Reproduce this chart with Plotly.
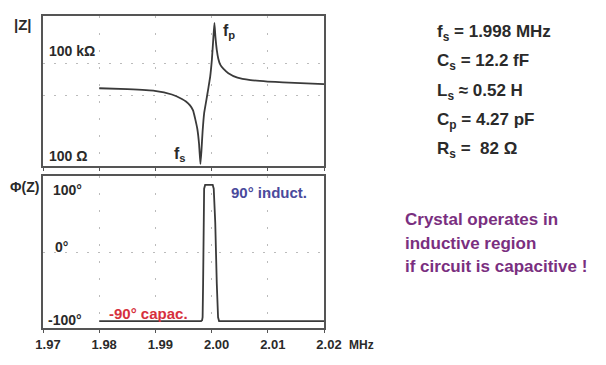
import plotly.graph_objects as go

# ---- data ----
freq_mag = [1.98000, 1.98503, 1.98987, 1.99293, 1.99472, 1.99544, 1.99616, 1.99670,
            1.99706, 1.99747, 1.99777, 1.99801, 1.99819, 1.99840, 1.99867, 1.99903,
            1.99944, 1.99975, 2.00005, 2.00029, 2.00050, 2.00068, 2.00092, 2.00119,
            2.00154, 2.00208, 2.00298, 2.00460, 2.00693, 2.00998, 2.01268, 2.02000]
z_mag = [16700, 15600, 13900, 10600, 7650, 6380, 4780, 3330,
         1860, 842, 284, 67, 171, 728, 2680, 6380,
         17600, 39000, 134000, 569000, 1950000, 706000, 275000, 144000,
         93000, 69700, 50200, 36300, 30300, 27200, 25800, 22600]

freq_ph = [1.980, 1.99813, 1.99831, 1.99840, 1.99849, 1.99858, 1.99867, 1.99885,
           2.00020, 2.00038, 2.00065, 2.00092, 2.00115, 2.00133, 2.020]
phase = [-90, -90, -89, -85, -40, 40, 85, 90,
         90, 85, 40, -40, -85, -90, -90]

x_ticks = [1.97, 1.98, 1.99, 2.00, 2.01, 2.02]
x_tick_text = ["1.97", "1.98", "1.99", "2.00", "2.01", "2.02"]
params = ["f<sub>s</sub> = 1.998 MHz", "C<sub>s</sub> = 12.2 fF", "L<sub>s</sub> \u2248 0.52 H",
          "C<sub>p</sub> = 4.27 pF", "R<sub>s</sub> =  82 \u03a9"]
note_lines = ["Crystal operates in", "inductive region", "if circuit is capacitive !"]

# page shows the figure offset by the 8px body margin
OFF = 8
W, H = 606 - OFF, 365 - OFF
ML, MT = 43 - OFF, 14 - OFF
MR, MB = W - (324 - OFF), H - (328 - OFF)
PW, PH = W - ML - MR, H - MT - MB


def px(x):
    return (x - OFF - ML) / PW


def py(y):
    return (H - MB - (y - OFF)) / PH


FONT = "Liberation Sans, Arial, sans-serif"
DARK = "#2a2a2a"

fig = go.Figure()
fig.add_trace(go.Scatter(x=freq_mag, y=z_mag, mode="lines", xaxis="x", yaxis="y",
                         line=dict(color="#3a3a3a", width=1.8, shape="spline", smoothing=0.4),
                         hoverinfo="skip"))
fig.add_trace(go.Scatter(x=freq_ph, y=phase, mode="lines", xaxis="x2", yaxis="y2",
                         line=dict(color="#3a3a3a", width=1.8), hoverinfo="skip"))

axis_common = dict(showline=True, mirror=True, linecolor="#555555", linewidth=1.5,
                   zeroline=False)

fig.update_layout(
    width=W, height=H, margin=dict(l=ML, r=MR, t=MT, b=MB),
    paper_bgcolor="white", plot_bgcolor="white", showlegend=False,
    xaxis=dict(domain=[0, 1], range=[1.97, 2.02], anchor="y", tickvals=x_ticks,
               showticklabels=False, ticks="outside", ticklen=3, tickcolor="#555555",
               showgrid=True, gridcolor="#bbbbbb", griddash="2px,15px", gridwidth=1,
               **axis_common),
    yaxis=dict(domain=[py(165), 1], type="log", range=[1.761, 6.509], anchor="x",
               tickvals=[1e4, 1e5], showticklabels=False, ticks="",
               showgrid=True, gridcolor="#bbbbbb", griddash="2px,9px", gridwidth=1,
               **axis_common),
    xaxis2=dict(domain=[0, 1], range=[1.97, 2.02], anchor="y2", tickvals=x_ticks,
                ticktext=x_tick_text, ticks="outside", ticklen=3, tickcolor="#555555",
                ticklabelshift=5, ticklabelstandoff=1,
                tickfont=dict(family=FONT, size=13, color=DARK, weight="bold"),
                showgrid=True, gridcolor="#bbbbbb", griddash="2px,15px", gridwidth=1,
                **axis_common),
    yaxis2=dict(domain=[0, py(175)], range=[-99.2, 101.8], anchor="x2",
                tickvals=[0], showticklabels=False, ticks="",
                showgrid=True, gridcolor="#bbbbbb", griddash="2px,9px", gridwidth=1,
                **axis_common),
)

anns = []


def add_text(text, x, y, size, color=DARK, xanchor="left"):
    anns.append(dict(text=text, x=px(x), y=py(y), xref="paper", yref="paper",
                     xanchor=xanchor, yanchor="middle", showarrow=False,
                     font=dict(family=FONT, size=size, color=color, weight="bold")))


add_text("|Z|", 12, 23, 15)
add_text("100 k\u03a9", 47, 49, 14)
add_text("100 \u03a9", 47, 155, 14)
add_text("f<sub>p</sub>", 221, 30, 16)
add_text("f<sub>s</sub>", 172, 153, 16)
add_text("\u03a6(Z)", 8, 186, 14)
add_text("100\u00b0", 51, 189, 14)
add_text("0\u00b0", 53, 246, 14)
add_text("-100\u00b0", 46, 320, 14)
add_text("90\u00b0 induct.", 229, 192, 15, color="#4a4a9c")
add_text("-90\u00b0 capac.", 107, 313, 15, color="#d6303d")
add_text("MHz", 347, 345, 12)

for i, t in enumerate(params):
    add_text(t, 435, 31 + i * 29.5, 17)
for i, t in enumerate(note_lines):
    add_text(t, 403, 219 + i * 23.5, 17, color="#7a2f80")

fig.update_layout(annotations=anns)
fig.write_html("out.html")
